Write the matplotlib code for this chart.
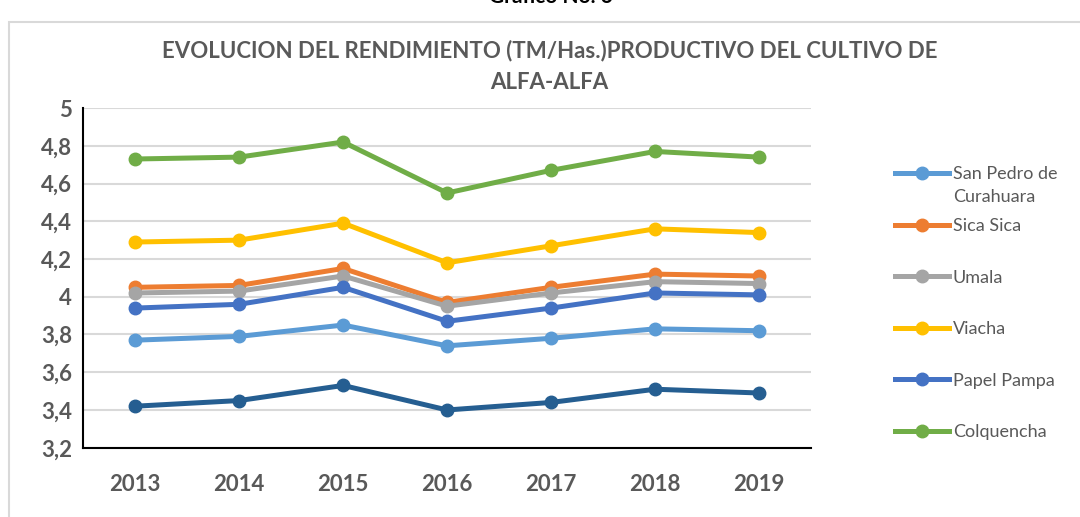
import numpy as np
import matplotlib
matplotlib.use("Agg")
import matplotlib.pyplot as plt
from matplotlib.patches import Rectangle
from matplotlib.ticker import FuncFormatter

plt.rcParams['font.family'] = ['Lato', 'DejaVu Sans']

# datos
anios = ['2013', '2014', '2015', '2016', '2017', '2018', '2019']
san_pedro = [3.77, 3.79, 3.85, 3.74, 3.78, 3.83, 3.82]
sica_sica = [4.05, 4.06, 4.15, 3.97, 4.05, 4.12, 4.11]
umala = [4.02, 4.03, 4.11, 3.95, 4.02, 4.08, 4.07]
viacha = [4.29, 4.30, 4.39, 4.18, 4.27, 4.36, 4.34]
papel_pampa = [3.94, 3.96, 4.05, 3.87, 3.94, 4.02, 4.01]
colquencha = [4.73, 4.74, 4.82, 4.55, 4.67, 4.77, 4.74]
otro = [3.42, 3.45, 3.53, 3.40, 3.44, 3.51, 3.49]  # serie sin leyenda visible

series = [
    ('San Pedro de', san_pedro, '#5B9BD5'),
    ('Sica Sica', sica_sica, '#ED7D31'),
    ('Umala', umala, '#A5A5A5'),
    ('Viacha', viacha, '#FFC000'),
    ('Papel Pampa', papel_pampa, '#4472C4'),
    ('Colquencha', colquencha, '#70AD47'),
    ('_otro', otro, '#255E91'),
]

fig = plt.figure(figsize=(10.8, 5.17), dpi=100)
ax = fig.add_axes([0.077, 0.134, 0.674, 0.657])

x = np.arange(len(anios))
for nombre, valores, color in series:
    ax.plot(x, valores, color=color, lw=3.6, marker='o', ms=9, label=nombre)

ax.set_xlim(-0.5, len(anios) - 0.5)
ax.set_ylim(3.2, 5.0)
ax.set_yticks(np.arange(3.2, 5.01, 0.2))
ax.yaxis.set_major_formatter(FuncFormatter(lambda v, p: ('%g' % round(v, 1)).replace('.', ',')))
ax.set_xticks(x)
ax.set_xticklabels(anios)
ax.tick_params(length=0, labelsize=16, labelcolor='#595959', pad=8)
ax.tick_params(axis='x', pad=19)
for lbl in ax.get_xticklabels() + ax.get_yticklabels():
    lbl.set_fontweight('bold')
ax.grid(axis='y', color='#D9D9D9', lw=1.5)
ax.set_axisbelow(True)
for s in ['top', 'right']:
    ax.spines[s].set_visible(False)
ax.spines['left'].set_color('black')
ax.spines['bottom'].set_color('black')
ax.spines['left'].set_linewidth(1.5)
ax.spines['bottom'].set_linewidth(1.5)

fig.text(0.509, 0.872, 'EVOLUCION DEL RENDIMIENTO (TM/Has.)PRODUCTIVO DEL CULTIVO DE\nALFA-ALFA',
         ha='center', va='center', fontsize=16, fontweight='bold', color='#595959',
         linespacing=1.65)
fig.text(0.51, 1.005, 'Gráfico No. 6', ha='center', va='center', fontsize=15, fontweight='bold')

leg = fig.legend(loc='upper left', bbox_to_anchor=(0.822, 0.692), frameon=False,
                 fontsize=13, labelcolor='#595959', labelspacing=1.97, handlelength=3.0,
                 handletextpad=0.2, borderaxespad=0)

# segunda linea de la primera etiqueta, debajo de "San Pedro de"
fig.canvas.draw()
bb = leg.get_texts()[0].get_window_extent().transformed(fig.transFigure.inverted())
fig.text(bb.x0, bb.y0 - 0.012, 'Curahuara', ha='left', va='top', fontsize=13, color='#595959')

fig.patches.append(Rectangle((0.008, -0.1), 1.1, 1.057, transform=fig.transFigure,
                             fill=False, edgecolor='#D9D9D9', lw=1.5))

fig.savefig('out.png', dpi=100)
